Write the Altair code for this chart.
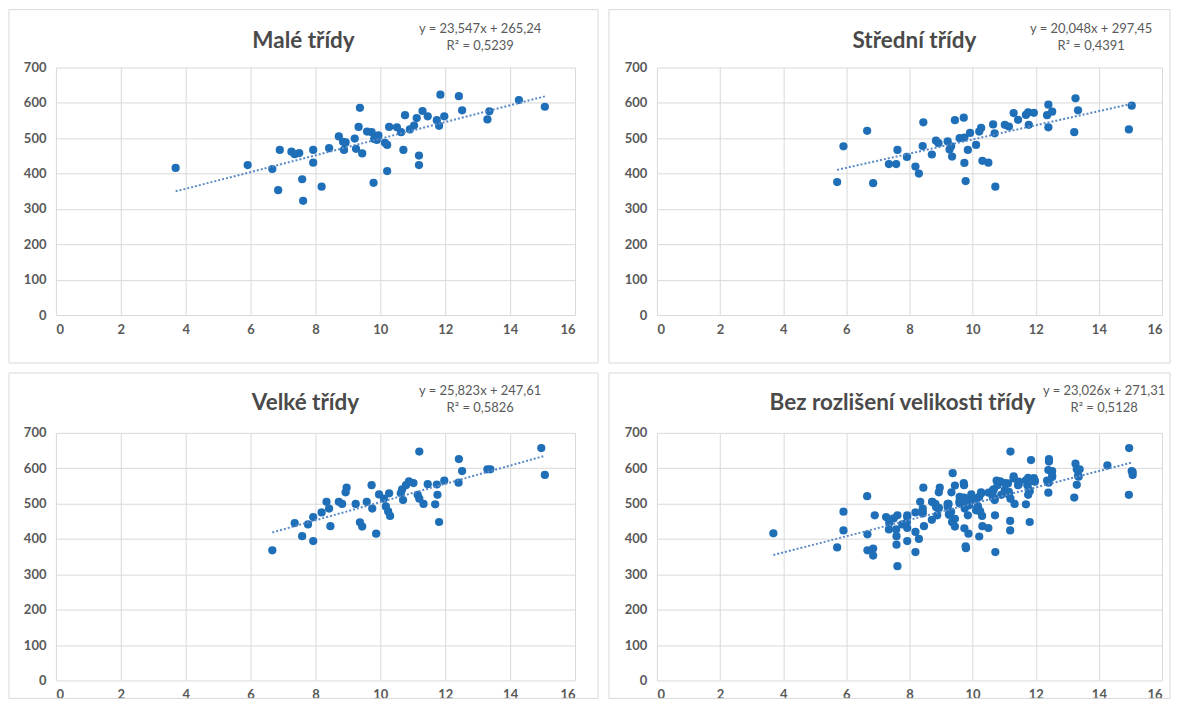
import altair as alt
import pandas as pd

# ---- data ----
small_x = [3.69, 5.91, 6.90, 6.67, 6.85, 7.26, 7.36, 7.50, 7.59, 7.62, 7.93, 7.93, 8.19, 8.42, 8.72, 8.85, 8.88, 8.93,
           9.21, 9.25, 9.37, 9.33, 9.44, 9.59, 9.73, 9.81, 9.89, 9.94, 9.79, 10.14, 10.21, 10.21, 10.27, 10.51, 10.64,
           10.71, 10.76, 10.91, 11.04, 11.12, 11.19, 11.19, 11.30, 11.46, 11.74, 11.81, 11.85, 11.97, 12.42, 12.52,
           13.30, 13.36, 14.27, 15.07]
small_y = [416, 424, 467, 413, 353, 462, 455, 458, 384, 323, 467, 431, 363, 472, 505, 490, 467, 488, 499, 470, 586, 532,
           457, 519, 517, 498, 495, 508, 374, 487, 481, 407, 532, 531, 517, 467, 565, 525, 536, 557, 451, 424, 577, 562,
           551, 535, 623, 562, 619, 579, 553, 576, 608, 589]

medium_x = [5.71, 5.91, 6.66, 6.85, 7.35, 7.58, 7.62, 7.92, 8.19, 8.30, 8.42, 8.44, 8.71, 8.84, 8.92, 9.21, 9.27, 9.32,
            9.35, 9.44, 9.59, 9.72, 9.74, 9.74, 9.78, 9.85, 9.92, 10.11, 10.21, 10.27, 10.31, 10.50, 10.65, 10.70, 10.72,
            11.02, 11.15, 11.30, 11.44, 11.69, 11.78, 11.76, 11.94, 12.36, 12.40, 12.40, 12.52, 13.22, 13.26, 13.34,
            14.95, 15.04]
medium_y = [376, 477, 521, 373, 427, 427, 467, 447, 420, 400, 478, 545, 454, 493, 486, 491, 468, 477, 448, 551, 500, 558,
            502, 430, 379, 467, 515, 481, 519, 529, 436, 431, 539, 514, 363, 538, 533, 571, 552, 566, 538, 573, 572, 565,
            595, 531, 575, 517, 613, 579, 525, 592]

large_x = [6.67, 7.36, 7.59, 7.77, 7.93, 7.93, 8.19, 8.34, 8.42, 8.46, 8.72, 8.82, 8.93, 8.96, 9.24, 9.37, 9.44, 9.58,
           9.73, 9.75, 9.87, 9.96, 10.11, 10.17, 10.24, 10.30, 10.27, 10.63, 10.67, 10.70, 10.79, 10.88, 11.02, 11.15,
           11.20, 11.20, 11.33, 11.46, 11.69, 11.74, 11.76, 11.81, 11.97, 12.42, 12.41, 12.52, 13.30, 13.39, 14.96, 15.07]
large_y = [368, 445, 408, 441, 462, 394, 475, 505, 486, 436, 505, 499, 532, 545, 499, 447, 435, 505, 552, 486, 415, 526,
           514, 492, 478, 465, 529, 529, 540, 510, 552, 563, 558, 525, 514, 647, 499, 555, 498, 554, 525, 448, 565, 626,
           559, 592, 597, 597, 657, 581]

titles = ["Malé třídy", "Střední třídy", "Velké třídy", "Bez rozlišení velikosti třídy"]
equations = ["y = 23,547x + 265,24", "y = 20,048x + 297,45", "y = 25,823x + 247,61", "y = 23,026x + 271,31"]
r_squared = ["R² = 0,5239", "R² = 0,4391", "R² = 0,5826", "R² = 0,5128"]

x_ticks = [0, 2, 4, 6, 8, 10, 12, 14, 16]
y_ticks = [0, 100, 200, 300, 400, 500, 600, 700]

FONT = "Lato"
DOT = "#1f6fb8"
TREND = "#5a8ac6"

W_L, W_R, H = 520, 506, 248
one = pd.DataFrame({"k": [0]})


def panel(xs, ys, title, eq, r2, width, rect, title_pos, eq_pos):
    df = pd.DataFrame({"x": xs, "y": ys})

    def xenc():
        return alt.X("x:Q", scale=alt.Scale(domain=[0, 16], nice=False),
                     axis=alt.Axis(values=x_ticks, tickCount=9, title=None, labelPadding=8, labelOverlap=False))

    def yenc():
        return alt.Y("y:Q", scale=alt.Scale(domain=[0, 700], nice=False),
                     axis=alt.Axis(values=y_ticks, tickCount=8, title=None, labelPadding=10, labelOverlap=False))

    border = alt.Chart(one).mark_rect(filled=False, stroke="#d9d9d9", strokeWidth=1).encode(
        x=alt.value(rect[0]), x2=alt.value(rect[1]), y=alt.value(rect[2]), y2=alt.value(rect[3]))
    pts = alt.Chart(df).mark_circle(size=68, color=DOT, opacity=1).encode(x=xenc(), y=yenc())
    trend = alt.Chart(df).transform_regression("x", "y").mark_line(
        color=TREND, strokeDash=[2, 2], strokeWidth=2).encode(x=xenc(), y=yenc())
    t_title = alt.Chart(one).mark_text(text=title, font=FONT, fontSize=22.5, fontWeight="bold",
                                        color="#4a4a4a", align="center", baseline="middle").encode(
        x=alt.value(title_pos[0]), y=alt.value(title_pos[1]))
    t_eq = alt.Chart(one).mark_text(text=eq, font=FONT, fontSize=13, color="#595959",
                                     align="center", baseline="middle").encode(
        x=alt.value(eq_pos[0]), y=alt.value(eq_pos[1]))
    t_r2 = alt.Chart(one).mark_text(text=r2, font=FONT, fontSize=13, color="#595959",
                                     align="center", baseline="middle").encode(
        x=alt.value(eq_pos[0]), y=alt.value(eq_pos[1] + 17))
    return alt.layer(border, pts, trend, t_title, t_eq, t_r2).properties(width=width, height=H)


all_x = small_x + medium_x + large_x
all_y = small_y + medium_y + large_y

p1 = panel(small_x, small_y, titles[0], equations[0], r_squared[0], W_L,
           (-47, W_L + 23, -58, H + 48), (248, -27), (425, -39))
p2 = panel(medium_x, medium_y, titles[1], equations[1], r_squared[1], W_R,
           (-48, W_R + 8, -58, H + 48), (258, -27), (435, -39))
p3 = panel(large_x, large_y, titles[2], equations[2], r_squared[2], W_L,
           (-47, W_L + 23, -60, H + 18), (250, -30), (425, -42))
p4 = panel(all_x, all_y, titles[3], equations[3], r_squared[3], W_R,
           (-48, W_R + 8, -60, H + 18), (246, -30), (448, -42))

chart = alt.vconcat(
    alt.hconcat(p1, p2, spacing=9),
    alt.hconcat(p3, p4, spacing=9),
    spacing=8,
).properties(padding=0).configure_view(stroke=None).configure_axis(
    domain=False, ticks=False, labelFont=FONT, labelFontSize=13, labelFontWeight="bold",
    labelColor="#595959", gridColor="#d9d9d9", gridWidth=1)

chart.save("out.html", embed_options={"renderer": "svg", "actions": False})
